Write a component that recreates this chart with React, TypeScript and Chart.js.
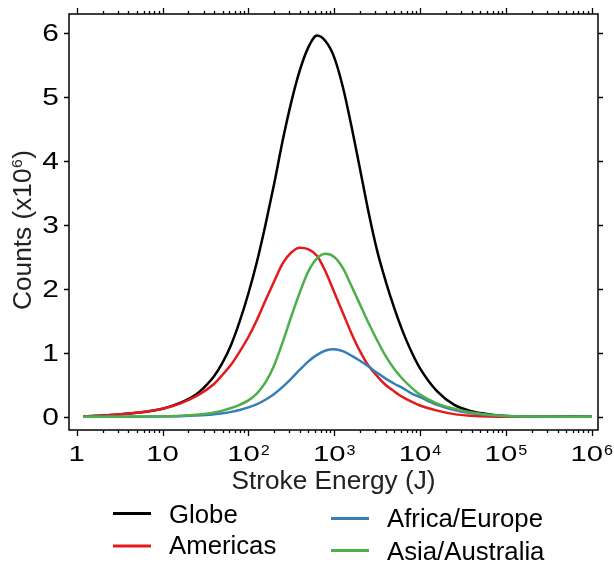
import React, { useEffect, useRef } from "react";
import { Chart, registerables } from "chart.js";
Chart.register(...registerables);

// Stroke energy (J), sampled along the log axis
const energies = [1.2, 2.5, 5, 10, 16, 25, 32, 40, 50, 63, 79, 100, 126, 158, 200, 251, 316, 398, 501, 631, 794, 1000, 1259, 1585, 1995, 2512, 3162, 3981, 5012, 6310, 7943, 10000, 15849, 25119, 39811, 63096, 100000, 316228, 1000000];

// Counts (x10^6)
const globe = [0.01, 0.03, 0.065, 0.13, 0.22, 0.36, 0.49, 0.64, 0.85, 1.13, 1.49, 1.93, 2.43, 3.0, 3.65, 4.32, 4.92, 5.42, 5.78, 5.96, 5.87, 5.62, 5.16, 4.55, 3.88, 3.20, 2.60, 2.12, 1.70, 1.33, 1.02, 0.76, 0.40, 0.19, 0.09, 0.042, 0.016, 0.008, 0.005];
const americas = [0.01, 0.03, 0.065, 0.13, 0.21, 0.33, 0.42, 0.52, 0.66, 0.82, 1.02, 1.25, 1.52, 1.82, 2.12, 2.40, 2.57, 2.645, 2.62, 2.52, 2.27, 1.95, 1.63, 1.31, 1.03, 0.80, 0.64, 0.50, 0.40, 0.31, 0.24, 0.18, 0.10, 0.045, 0.02, 0.008, 0.004, 0.003, 0.003];
const africaEurope = [0.003, 0.004, 0.005, 0.008, 0.013, 0.022, 0.03, 0.042, 0.058, 0.08, 0.11, 0.15, 0.20, 0.27, 0.36, 0.47, 0.60, 0.74, 0.87, 0.97, 1.04, 1.06, 1.03, 0.96, 0.88, 0.79, 0.69, 0.60, 0.52, 0.45, 0.37, 0.31, 0.19, 0.11, 0.06, 0.03, 0.015, 0.005, 0.003];
const asiaAustralia = [0.004, 0.005, 0.007, 0.012, 0.02, 0.035, 0.05, 0.07, 0.10, 0.14, 0.19, 0.26, 0.37, 0.54, 0.81, 1.17, 1.57, 1.95, 2.28, 2.48, 2.55, 2.50, 2.33, 2.05, 1.76, 1.47, 1.20, 0.95, 0.75, 0.59, 0.46, 0.35, 0.21, 0.13, 0.07, 0.035, 0.015, 0.006, 0.004];

const seriesNames = ["Globe", "Americas", "Africa/Europe", "Asia/Australia"];
const seriesColors = ["#000000", "#e41a1c", "#377eb8", "#4daf4a"];
const seriesValues = [globe, americas, africaEurope, asiaAustralia];
const drawOrder = [3, 2, 1, 0];

const xTickValues = [1, 10, 100, 1000, 10000, 100000, 1000000];
const xTickBase = ["1", "10", "10", "10", "10", "10", "10"];
const xTickExp = ["", "", "2", "3", "4", "5", "6"];
const yTickValues = [0, 1, 2, 3, 4, 5, 6];

const xTitle = "Stroke Energy (J)";
const yTitleMain = "Counts (x10";
const yTitleExp = "6";
const yTitleEnd = ")";

const FONT = "'Liberation Sans', Arial, Helvetica, sans-serif";

function textW(ctx: CanvasRenderingContext2D, t: string, size: number, sx: number) {
  ctx.font = `${size}px ${FONT}`;
  return ctx.measureText(t).width * sx;
}

function drawText(ctx: CanvasRenderingContext2D, t: string, x: number, y: number, size: number, sx: number, color = "#000") {
  ctx.save();
  ctx.font = `${size}px ${FONT}`;
  ctx.fillStyle = color;
  ctx.textAlign = "left";
  ctx.textBaseline = "alphabetic";
  ctx.translate(x, y);
  ctx.scale(sx, 1);
  ctx.fillText(t, 0, 0);
  ctx.restore();
}

const framePlugin = {
  id: "framePlugin",
  afterDraw(chart: any) {
    const ctx: CanvasRenderingContext2D = chart.ctx;
    const { left, top, right, bottom } = chart.chartArea;
    const xs = chart.scales.x;
    const ys = chart.scales.y;
    ctx.save();
    ctx.strokeStyle = "#000";
    ctx.lineWidth = 1.5;
    ctx.strokeRect(left, top, right - left, bottom - top);

    // x ticks (top & bottom, outward)
    ctx.lineWidth = 1.3;
    const minor: number[] = [];
    for (let d = 0; d < xTickValues.length - 1; d++) {
      for (let k = 2; k <= 9; k++) minor.push(xTickValues[d] * k);
    }
    ctx.beginPath();
    for (const v of xTickValues) {
      const px = Math.round(xs.getPixelForValue(v)) + 0.5;
      ctx.moveTo(px, bottom); ctx.lineTo(px, bottom + 6);
      ctx.moveTo(px, top); ctx.lineTo(px, top - 6);
    }
    for (const v of minor) {
      const px = Math.round(xs.getPixelForValue(v)) + 0.5;
      ctx.moveTo(px, bottom); ctx.lineTo(px, bottom + 3);
      ctx.moveTo(px, top); ctx.lineTo(px, top - 3);
    }
    // y ticks (left & right, outward)
    for (const v of yTickValues) {
      const py = Math.round(ys.getPixelForValue(v)) + 0.5;
      ctx.moveTo(left, py); ctx.lineTo(left - 5, py);
      ctx.moveTo(right, py); ctx.lineTo(right + 5, py);
    }
    ctx.stroke();

    // x tick labels
    const tSize = 22, tSx = 1.33, supSize = 14, supSx = 1.15;
    xTickValues.forEach((v, i) => {
      const px = xs.getPixelForValue(v);
      const wb = textW(ctx, xTickBase[i], tSize, tSx);
      const we = xTickExp[i] ? textW(ctx, xTickExp[i], supSize, supSx) + 1 : 0;
      const x0 = px - (wb + we) / 2;
      drawText(ctx, xTickBase[i], x0, bottom + 31, tSize, tSx);
      if (xTickExp[i]) drawText(ctx, xTickExp[i], x0 + wb + 1, bottom + 25, supSize, supSx);
    });

    // y tick labels
    yTickValues.forEach((v) => {
      const py = ys.getPixelForValue(v);
      const t = String(v);
      const w = textW(ctx, t, 23, 1.3);
      drawText(ctx, t, left - 10 - w, py + 8.3, 23, 1.3);
    });

    // x title
    const titleSize = 25, titleSx = 1.05;
    const wt = textW(ctx, xTitle, titleSize, titleSx);
    drawText(ctx, xTitle, (left + right) / 2 - wt / 2, 489, titleSize, titleSx, "#222");

    // y title (rotated)
    ctx.save();
    ctx.translate(31, (top + bottom) / 2 + 8);
    ctx.rotate(-Math.PI / 2);
    const w1 = textW(ctx, yTitleMain, titleSize, titleSx);
    const w2 = textW(ctx, yTitleExp, 15, 1.05) + 1;
    const w3 = textW(ctx, yTitleEnd, titleSize, titleSx);
    let xx = -(w1 + w2 + w3) / 2;
    drawText(ctx, yTitleMain, xx, 0, titleSize, titleSx, "#222");
    xx += w1;
    drawText(ctx, yTitleExp, xx + 0.5, -9, 15, 1.05, "#222");
    xx += w2;
    drawText(ctx, yTitleEnd, xx, 0, titleSize, titleSx, "#222");
    ctx.restore();

    // legend
    const legendPos = [
      { lx: 113, ly: 513.5, tx: 169, ty: 523 },
      { lx: 113, ly: 546, tx: 169, ty: 554 },
      { lx: 331, ly: 518.5, tx: 387, ty: 527 },
      { lx: 331, ly: 550.5, tx: 387, ty: 560 },
    ];
    seriesNames.forEach((name, i) => {
      const p = legendPos[i];
      ctx.strokeStyle = seriesColors[i];
      ctx.lineWidth = 3;
      ctx.beginPath();
      ctx.moveTo(p.lx, p.ly);
      ctx.lineTo(p.lx + 38, p.ly);
      ctx.stroke();
      drawText(ctx, name, p.tx, p.ty, 25, 1.03, "#000");
    });
    ctx.restore();
  },
};

export default function App() {
  const ref = useRef<HTMLCanvasElement | null>(null);
  useEffect(() => {
    document.body.style.margin = "0";
    if (!ref.current) return;
    const chart = new Chart(ref.current, {
      type: "line",
      data: {
        datasets: seriesNames.map((name, i) => ({
          label: name,
          data: energies.map((e, j) => ({ x: e, y: seriesValues[i][j] })),
          borderColor: seriesColors[i],
          backgroundColor: seriesColors[i],
          borderWidth: 2.5,
          pointRadius: 0,
          fill: false,
          cubicInterpolationMode: "monotone" as const,
          order: drawOrder[i],
        })),
      },
      options: {
        responsive: false,
        animation: false,
        maintainAspectRatio: false,
        layout: { padding: { left: 69, top: 14, right: 16, bottom: 132 } },
        scales: {
          x: { type: "logarithmic", min: 0.813, max: 1.184e6, display: false },
          y: { type: "linear", min: -0.203, max: 6.297, display: false },
        },
        plugins: { legend: { display: false }, tooltip: { enabled: false } },
      },
      plugins: [framePlugin],
    });
    return () => chart.destroy();
  }, []);
  return (
    <div style={{ width: 614, height: 562 }}>
      <canvas ref={ref} width={614} height={562} style={{ display: "block" }} />
    </div>
  );
}
